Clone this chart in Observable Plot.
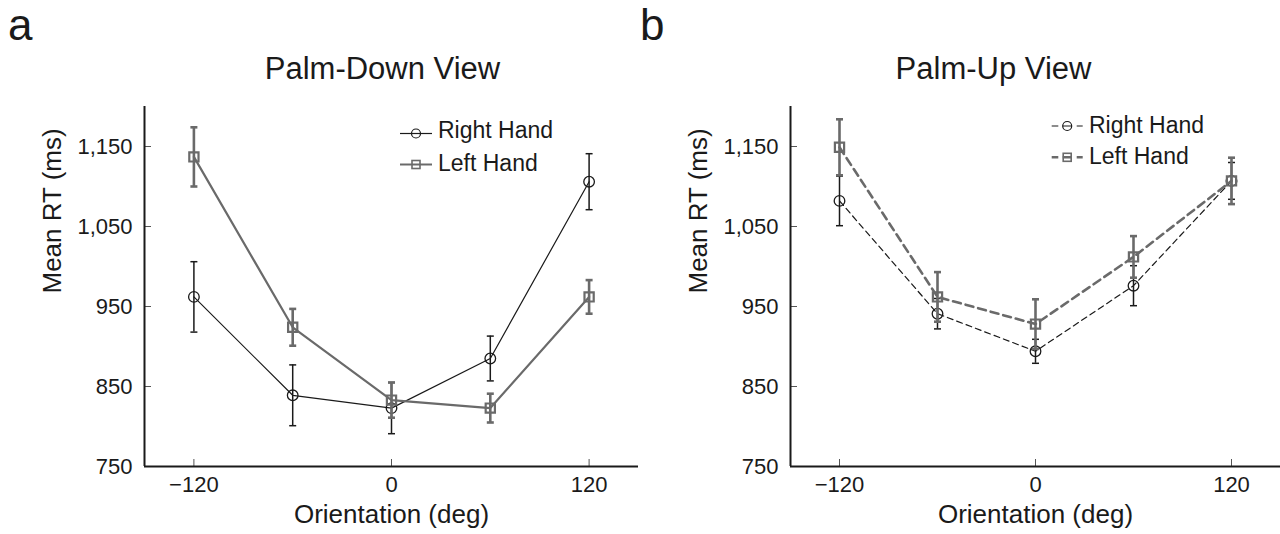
<!DOCTYPE html>
<html><head><meta charset="utf-8">
<script src="https://cdn.jsdelivr.net/npm/d3@7"></script>
<script src="https://cdn.jsdelivr.net/npm/@observablehq/plot@0.6"></script>
<style>
body{margin:0;background:#fff;}
#wrap{position:relative;width:1280px;height:534px;overflow:hidden;font-family:"Liberation Sans",Arial,sans-serif;color:#1a1a1a;}
.panel{position:absolute;top:0;}
#overlay{position:absolute;left:0;top:0;pointer-events:none;}
</style></head><body>
<div id="wrap"></div>
<script>
// ---- data ----
const orientations = [-120, -60, 0, 60, 120];
const xTicks = [-120, 0, 120];
const yTicks = [750, 850, 950, 1050, 1150];
const xDomain = [-150, 150];
const yDomain = [750, 1200];

const downRight = [962, 839, 823, 885, 1106];
const downRightErr = [44, 38, 32, 28, 35];
const downLeft = [1137, 924, 833, 823, 962];
const downLeftErr = [37, 23, 22, 18, 21];

const upRight = [1082, 941, 894, 976, 1107];
const upRightErr = [31, 19, 15, 25, 23];
const upLeft = [1149, 962, 928, 1012, 1107];
const upLeftErr = [35, 31, 31, 26, 29];

const titles = ["Palm-Down View", "Palm-Up View"];
const panelLetters = ["a", "b"];
const seriesNames = ["Right Hand", "Left Hand"];
const xLabel = "Orientation (deg)";
const yLabel = "Mean RT (ms)";

// ---- styles ----
const BLACK = "#1a1a1a";
const GRAY = "#6a6a6a";
const fmt = d3.format(",");
const capSymbol = {draw(ctx, size) { const w = Math.sqrt(size / Math.PI); ctx.moveTo(-w, 0); ctx.lineTo(w, 0); }};

function rows(vals, errs) {
  return orientations.map((x, i) => ({x, y: vals[i], lo: vals[i] - errs[i], hi: vals[i] + errs[i]}));
}

function seriesMarks(data, {stroke, lineWidth, errWidth, dash, symbol, r}) {
  return [
    Plot.line(data, {x: "x", y: "y", stroke, strokeWidth: lineWidth, strokeDasharray: dash}),
    Plot.ruleX(data, {x: "x", y1: "lo", y2: "hi", stroke, strokeWidth: errWidth}),
    Plot.dot(data, {x: "x", y: "lo", symbol: capSymbol, r: 3.5, stroke, strokeWidth: errWidth}),
    Plot.dot(data, {x: "x", y: "hi", symbol: capSymbol, r: 3.5, stroke, strokeWidth: errWidth}),
    Plot.dot(data, {x: "x", y: "y", symbol, r, stroke, fill: "none", strokeWidth: symbol === "square" ? 2.2 : 1.3})
  ];
}

function panel({right, rightErr, left, leftErr, dashed, title, marginLeft, marginRight, titleDx}) {
  const R = rows(right, rightErr), L = rows(left, leftErr);
  return Plot.plot({
    width: 640, height: 534,
    marginLeft, marginRight, marginTop: 106, marginBottom: 68,
    x: {domain: xDomain},
    y: {domain: yDomain},
    style: {fontFamily: '"Liberation Sans", Arial, sans-serif', fontSize: "22px", color: BLACK, background: "transparent", overflow: "visible"},
    marks: [
      Plot.axisX({ticks: xTicks, tickSize: 7, dy: -7, tickFormat: () => "", label: null, stroke: "#555"}),
      Plot.axisX({ticks: xTicks, tickSize: 0, tickPadding: 10, tickFormat: fmt, fontSize: 22, label: null}),
      Plot.axisY({ticks: yTicks, tickSize: 7, dx: 7, tickFormat: () => "", label: null, stroke: "#555"}),
      Plot.axisY({ticks: yTicks, tickSize: 0, tickPadding: 12, tickFormat: fmt, fontSize: 22, label: null}),
      Plot.ruleY([yDomain[0]], {stroke: BLACK, strokeWidth: 2}),
      Plot.ruleX([xDomain[0]], {stroke: BLACK, strokeWidth: 2}),
      ...seriesMarks(R, {stroke: BLACK, lineWidth: 1.2, errWidth: 1.5, dash: dashed ? "6,4" : null, symbol: "circle", r: 5.3}),
      ...seriesMarks(L, {stroke: GRAY, lineWidth: dashed ? 2.6 : 2.2, errWidth: 2.6, dash: dashed ? "8,5" : null, symbol: "square", r: 5.2}),
      Plot.text([title], {text: d => d, frameAnchor: "top", dx: titleDx, dy: -37.6, fontSize: 31, lineAnchor: "middle", fill: BLACK}),
      Plot.text([xLabel], {text: d => d, frameAnchor: "bottom", dy: 48, fontSize: 26, lineAnchor: "middle", fill: BLACK}),
      Plot.text([yLabel], {text: d => d, frameAnchor: "left", rotate: -90, dx: -92, dy: 7, fontSize: 26, lineAnchor: "middle", fill: BLACK})
    ]
  });
}

const wrap = document.getElementById("wrap");
const p1 = panel({right: downRight, rightErr: downRightErr, left: downLeft, leftErr: downLeftErr, dashed: false, title: titles[0], marginLeft: 144, marginRight: 2, titleDx: -9});
const p2 = panel({right: upRight, rightErr: upRightErr, left: upLeft, leftErr: upLeftErr, dashed: true, title: titles[1], marginLeft: 150, marginRight: 0, titleDx: -42});
const d1 = document.createElement("div"); d1.className = "panel"; d1.style.left = "0px"; d1.appendChild(p1); wrap.appendChild(d1);
const d2 = document.createElement("div"); d2.className = "panel"; d2.style.left = "640px"; d2.appendChild(p2); wrap.appendChild(d2);

// ---- overlay: panel letters and legends ----
const svg = d3.select(wrap).append("svg").attr("id", "overlay").attr("width", 1280).attr("height", 534)
  .style("font-family", '"Liberation Sans", Arial, sans-serif');
svg.selectAll("text.letter").data(panelLetters).join("text").attr("class", "letter")
  .attr("x", (d, i) => i ? 640 : 8).attr("y", 40).attr("font-size", 44).attr("fill", BLACK).text(d => d);

function legend(g, {x0, x1, ys, textX, baselines, dashed}) {
  const styles = [
    {stroke: BLACK, w: 1.2, dash: dashed ? "6.6,4.4,9,5,6" : null, sym: "circle"},
    {stroke: GRAY, w: dashed ? 2.4 : 2, dash: dashed ? "6.6,4.4,9,5,6" : null, sym: "square"}
  ];
  seriesNames.forEach((name, i) => {
    const s = styles[i], y = ys[i], cx = (x0 + x1) / 2;
    g.append("line").attr("x1", x0).attr("x2", x1).attr("y1", y).attr("y2", y)
      .attr("stroke", s.stroke).attr("stroke-width", s.w).attr("stroke-dasharray", s.dash);
    if (s.sym === "circle") g.append("circle").attr("cx", cx).attr("cy", y).attr("r", 4.5).attr("fill", "none").attr("stroke", s.stroke).attr("stroke-width", 1.2);
    else g.append("rect").attr("x", cx - 4).attr("y", y - 4).attr("width", 8).attr("height", 8).attr("fill", "none").attr("stroke", s.stroke).attr("stroke-width", 1.6);
    g.append("text").attr("x", textX).attr("y", baselines[i]).attr("font-size", 23).attr("fill", BLACK).text(name);
  });
}
legend(svg.append("g"), {x0: 400, x1: 432, ys: [133.5, 164.5], textX: 438, baselines: [138, 171], dashed: false});
legend(svg.append("g"), {x0: 1051.7, x1: 1082.7, ys: [126, 157.3], textX: 1089, baselines: [132.7, 164], dashed: true});
</script>
</body></html>
